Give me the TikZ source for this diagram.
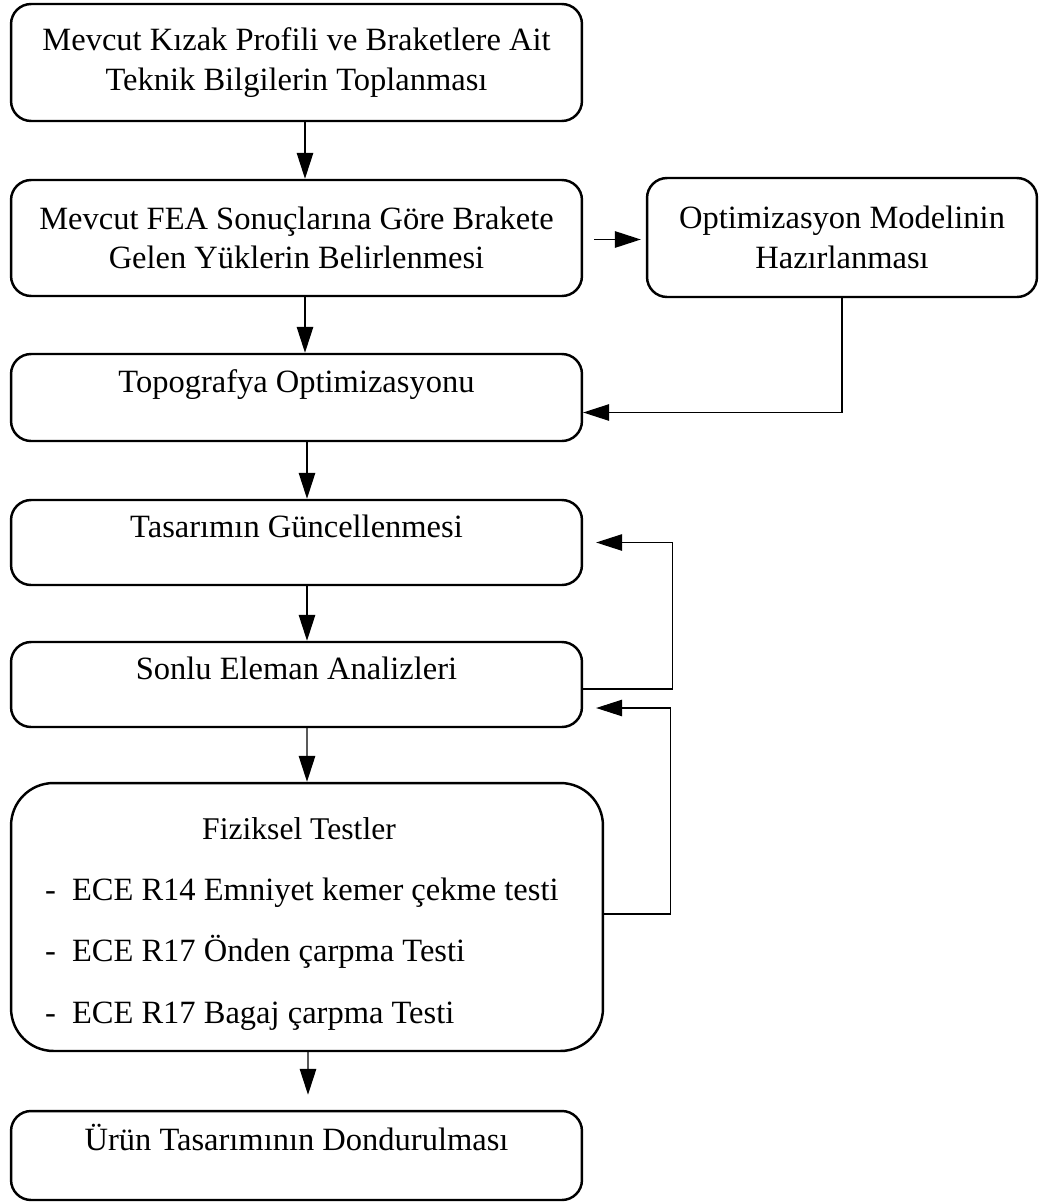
\documentclass[tikz,border=0pt]{standalone}
\usepackage{fontspec}
\setmainfont{Liberation Serif}
\usetikzlibrary{arrows.meta}
\begin{document}
\begin{tikzpicture}[
 x=.02cm,y=-.02cm,
 box/.style={draw,line width=1.4pt,rounded corners=.4cm,align=center,
  minimum width=11.42cm,inner sep=0pt},
 oneline/.style={text height=12pt,text depth=18pt},
 flow/.style={line width=.8pt,-{Triangle[length=.52cm,width=.33cm]}},
 back/.style={line width=.6pt,-{Triangle[length=.52cm,width=.33cm]}},
 every node/.style={font=\fontsize{18.5}{22.5}\selectfont}]
 \useasboundingbox (0,0) rectangle (1041,1203);
 % Main chain of steps.
 \node[box,minimum height=2.34cm] (mev) at (296.5,62.5)
  {Mevcut Kızak Profili ve Braketlere Ait\\Teknik Bilgilerin Toplanması};
 \node[box,minimum height=2.32cm] (fea) at (296.5,238)
  {Mevcut FEA Sonuçlarına Göre Brakete\\Gelen Yüklerin Belirlenmesi};
 \node[box,minimum width=7.8cm,minimum height=2.38cm] (opt) at (842,237.5)
  {Optimizasyon Modelinin\\Hazırlanması};
 \node[box,oneline,minimum height=1.74cm] (topo) at (296.5,397.5) {Topografya Optimizasyonu};
 \node[box,oneline,minimum height=1.7cm] (tas) at (296.5,542.5) {Tasarımın Güncellenmesi};
 \node[box,oneline,minimum height=1.7cm] (sle) at (296.5,684.5) {Sonlu Eleman Analizleri};
 % Physical tests, with the list of tests.
 \node[box,rounded corners=.85cm,minimum width=11.84cm,minimum height=5.36cm,
  text width=10.48cm,inner xsep=.68cm,align=flush left] (fiz) at (307,917)
  {\makebox[\linewidth]{\fontsize{18}{22}\selectfont\rule{0pt}{20pt}Fiziksel Testler\hspace{.32cm}}\\[12.4pt]
   \makebox[.54cm][l]{-}ECE R14 Emniyet kemer çekme testi\\[12.4pt]
   \makebox[.54cm][l]{-}ECE R17 Önden çarpma Testi\\[12.4pt]
   \makebox[.54cm][l]{-}ECE R17 Bagaj çarpma Testi};
 \node[box,oneline,minimum height=1.78cm] (urun) at (296.5,1155.5) {Ürün Tasarımının Dondurulması};
 % Downward arrows.
 \draw[flow] ([xshift=.17cm]mev.south)--([xshift=.17cm]fea.north);
 \draw[flow] ([xshift=.17cm]fea.south)--([xshift=.17cm]topo.north);
 \draw[flow] ([xshift=.21cm]topo.south)--([xshift=.21cm]tas.north);
 \draw[flow] ([xshift=.21cm]tas.south)--([xshift=.21cm]sle.north);
 \draw[flow] ([xshift=.21cm]sle.south)--(fiz.north);
 \draw[flow,shorten >=.3cm] ([xshift=.02cm]fiz.south)--([xshift=.23cm]urun.north);
 % Side branch and feedback loops.
 \draw[flow,shorten <=.22cm,shorten >=.1cm] ([yshift=-.03cm]fea.east)--([yshift=-.03cm]fea.east-|opt.west);
 \draw[back] (opt.south)|-([yshift=-.3cm]topo.east);
 \draw[back,shorten >=.26cm] ([yshift=-.09cm]sle.east)--++(89,0)|-(tas.east);
 \draw[back,shorten >=.26cm] ([yshift=.06cm]fiz.east)--++(66,0)|-([yshift=-.47cm]sle.east);
\end{tikzpicture}
\end{document}
